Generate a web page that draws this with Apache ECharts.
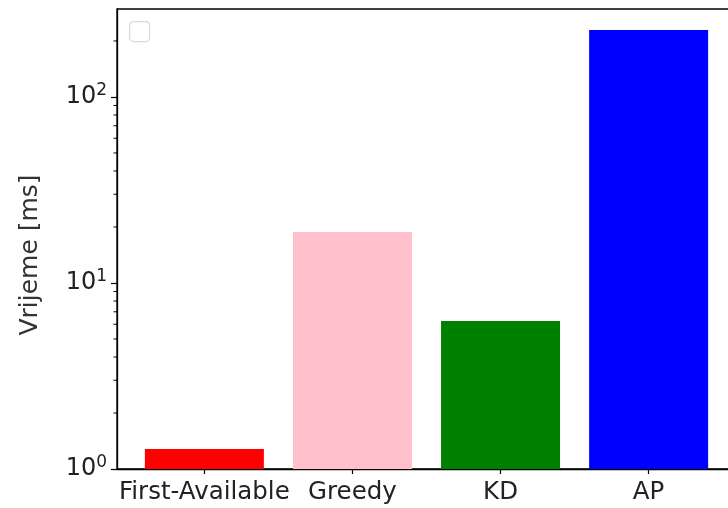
<!DOCTYPE html>
<html><head><meta charset="utf-8">
<script src="https://cdn.jsdelivr.net/npm/echarts@6/dist/echarts.min.js"></script>
<style>html,body{margin:0;padding:0;background:#fff}#c{width:728px;height:508px}</style>
</head><body><div id="c"></div>
<script>
const categories = ['First-Available', 'Greedy', 'KD', 'AP'];
const values = [1.28, 18.8, 6.25, 229];
const barColors = ['#ff0000', '#ffc0cb', '#008000', '#0000ff'];
const minorTickValues = [2,3,4,5,6,7,8,9,20,30,40,50,60,70,80,90,200];
const yAxisName = 'Vrijeme [ms]';

const chart = echarts.init(document.getElementById('c'), null, {renderer: 'canvas'});
const font = 'DejaVu Sans';
chart.setOption({
  animation: false,
  grid: {left: 117, top: 9, width: 619, bottom: 39, outerBoundsMode: 'none', containLabel: false, show: true, borderColor: '#000', borderWidth: 1.3, backgroundColor: 'transparent'},
  xAxis: {
    type: 'value', min: -0.59, max: 3.59, interval: 1,
    splitLine: {show: false},
    axisLine: {show: true, onZero: false, lineStyle: {color: '#000', width: 1.3}},
    axisTick: {show: true, length: 5, lineStyle: {color: '#000', width: 1.2}, customValues: [0,1,2,3]},
    axisLabel: {customValues: [0,1,2,3], formatter: v => categories[Math.round(v)] || '', color: '#222', fontFamily: font, fontSize: 24.5, margin: 11}
  },
  yAxis: {
    type: 'log', logBase: 10, min: 1, max: 297,
    name: yAxisName, nameLocation: 'middle', nameGap: 74, nameRotate: 90,
    nameTextStyle: {color: '#333', fontFamily: font, fontSize: 25, padding: [0, 32, 0, 0]},
    splitLine: {show: false},
    axisLine: {show: true, onZero: false, lineStyle: {color: '#000', width: 1.3}},
    axisTick: {show: true, length: 6, lineStyle: {color: '#000', width: 1.2}},
    axisLabel: {
      margin: 10, showMaxLabel: false,
      formatter: v => { const e = Math.round(Math.log10(v)); return (Math.abs(Math.log10(v) - e) < 1e-6) ? '{b|10}{s|' + e + '}' : ''; },
      rich: {b: {fontFamily: font, fontSize: 24, color: '#222'}, s: {fontFamily: font, fontSize: 17, color: '#222', verticalAlign: 'top', padding: [0,0,12,0]}}
    }
  },
  series: [{
    type: 'bar', barWidth: 119, barGap: '0%',
    data: values.map((v, i) => ({value: [i, v], itemStyle: {color: barColors[i]}}))
  }, {
    type: 'custom',
    data: minorTickValues.map(v => [0, v]),
    renderItem: (params, api) => {
      const p = api.coord([-0.59, api.value(1)]);
      return {type: 'line', shape: {x1: p[0] - 3.5, y1: p[1], x2: p[0], y2: p[1]}, style: {stroke: '#000', lineWidth: 1}};
    },
    z: 5
  }],
  graphic: [{
    type: 'rect', left: 129, top: 21, shape: {width: 20, height: 20, r: 4},
    style: {fill: '#fff', stroke: '#d8d8d8', lineWidth: 1.2}
  }]
});
</script></body></html>
